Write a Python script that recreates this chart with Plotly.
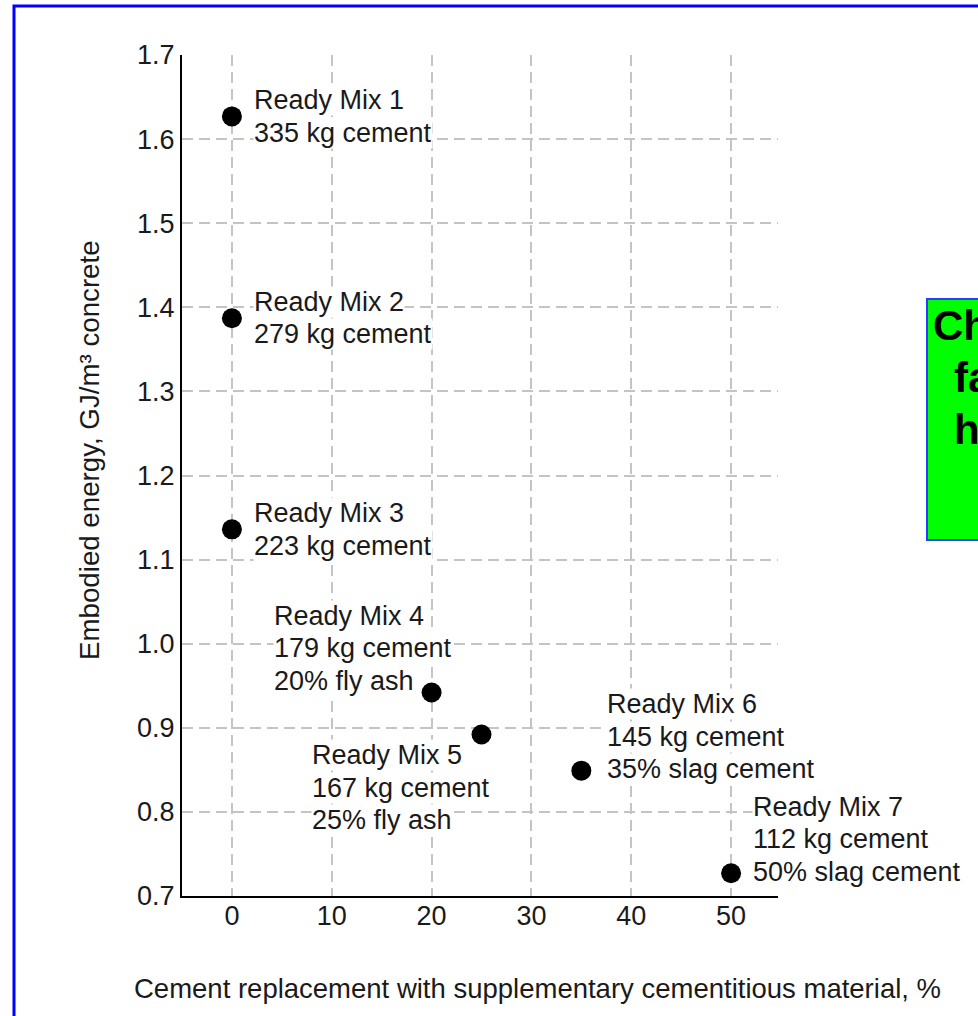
import plotly.graph_objects as go

# ---- data ----
replacement_pct = [0, 0, 0, 20, 25, 35, 50]
embodied_energy = [1.627, 1.387, 1.136, 0.942, 0.892, 0.849, 0.727]
mix_names = ["Ready Mix 1", "Ready Mix 2", "Ready Mix 3", "Ready Mix 4",
             "Ready Mix 5", "Ready Mix 6", "Ready Mix 7"]
cement_kg = [335, 279, 223, 179, 167, 145, 112]
scm_text = ["", "", "", "20% fly ash", "25% fly ash", "35% slag cement", "50% slag cement"]
x_ticks = [0, 10, 20, 30, 40, 50]
y_ticks = [0.7, 0.8, 0.9, 1.0, 1.1, 1.2, 1.3, 1.4, 1.5, 1.6, 1.7]

# label placement (pixel shifts of each label block relative to its point)
label_shift_x = [21, 21, 21, -159, -171, 25, 21]
label_shift_y = [0, 0, 0, 44, -53, 34, 34]
LINE = 32.5

W, H = 978, 1016
ML, MR, MT, MB = 182, 200, 55, 120
PW, PH = W - ML - MR, H - MT - MB

def px(xp):
    return (xp - ML) / PW

def py(yp):
    return (H - MB - yp) / PH

FONT = "Liberation Sans, Arial, sans-serif"
FS = 27
TXT = "#1a1a1a"

fig = go.Figure()
fig.add_trace(go.Scatter(
    x=replacement_pct, y=embodied_energy, mode="markers",
    marker=dict(size=20, color="black"), showlegend=False, hoverinfo="skip"))

annotations = []
for i in range(len(mix_names)):
    lines = [mix_names[i], f"{cement_kg[i]} kg cement"]
    if scm_text[i]:
        lines.append(scm_text[i])
    n = len(lines)
    for k, line in enumerate(lines):
        annotations.append(dict(
            x=replacement_pct[i], y=embodied_energy[i], xref="x", yref="y",
            text=line, showarrow=False, align="left",
            xanchor="left", yanchor="middle",
            xshift=label_shift_x[i],
            yshift=label_shift_y[i] - (k - (n - 1) / 2) * LINE,
            bgcolor="white", borderpad=0,
            font=dict(family=FONT, size=FS, color=TXT)))

# axis titles
annotations.append(dict(
    x=px(537), y=py(988), xref="paper", yref="paper", showarrow=False,
    text="Cement replacement with supplementary cementitious material, %",
    xanchor="center", yanchor="middle",
    font=dict(family=FONT, size=27.5, color=TXT)))
annotations.append(dict(
    x=px(90), y=py(450), xref="paper", yref="paper", showarrow=False,
    text="Embodied energy, GJ/m³ concrete", textangle=-90,
    xanchor="center", yanchor="middle",
    font=dict(family=FONT, size=27.7, color=TXT)))

# green callout text (clipped at the page edge, as in the original slide)
for txt, xl, yc in [("Check", 932, 325), ("facts", 953, 377), ("here", 953, 429)]:
    annotations.append(dict(
        x=px(xl), y=py(yc), xref="paper", yref="paper", showarrow=False,
        text=f"<b>{txt}</b>", xanchor="left", yanchor="middle", borderpad=0,
        font=dict(family=FONT, size=42, color="black")))

shapes = [
    # blue frame around slide
    dict(type="rect", xref="paper", yref="paper",
         x0=px(14), x1=px(1400), y0=py(1400), y1=py(6),
         line=dict(color="#0000ff", width=3), fillcolor="rgba(0,0,0,0)", layer="below"),
    # green callout box
    dict(type="rect", xref="paper", yref="paper",
         x0=px(927), x1=px(1400), y0=py(540), y1=py(299),
         line=dict(color="#2a3cff", width=2), fillcolor="#00ff00", layer="above"),
]

fig.update_layout(
    width=W, height=H,
    margin=dict(l=ML, r=MR, t=MT, b=MB, pad=0),
    paper_bgcolor="white", plot_bgcolor="white",
    font=dict(family=FONT, size=FS, color=TXT),
    annotations=annotations, shapes=shapes,
    xaxis=dict(range=[-5, 54.7], tickvals=x_ticks, ticktext=[str(v) for v in x_ticks],
               showgrid=True, gridcolor="#c4c4c4", gridwidth=2, griddash="11px,6px",
               showline=True, linecolor="black", linewidth=2, zeroline=False,
               ticks="", tickfont=dict(size=FS, color=TXT), ticklabelstandoff=-5),
    yaxis=dict(range=[0.7, 1.7], tickvals=y_ticks, ticktext=[f"{v:.1f}" for v in y_ticks],
               showgrid=True, gridcolor="#c4c4c4", gridwidth=2, griddash="11px,6px",
               showline=True, linecolor="black", linewidth=2, zeroline=False,
               ticks="", tickfont=dict(size=FS, color=TXT), ticklabelstandoff=0),
)

fig.write_html("out.html", config={"displayModeBar": False},
               post_script="document.body.style.margin='0';document.body.style.overflow='hidden';")
